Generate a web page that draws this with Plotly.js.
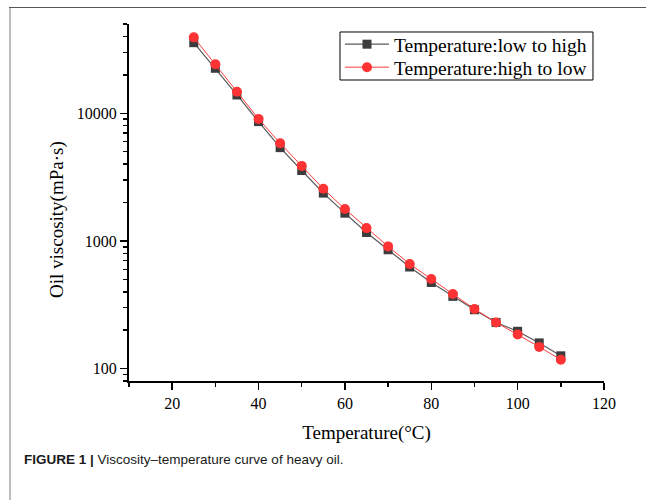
<!DOCTYPE html>
<html>
<head>
<meta charset="utf-8">
<script src="https://cdn.plot.ly/plotly-3.0.1.min.js"></script>
<style>
  html, body { margin: 0; padding: 0; background: #fff; }
  #wrap { position: relative; width: 646px; height: 500px; }
  #chart { position: absolute; left: 0; top: 0; width: 646px; height: 500px; }
  #frameTop { position: absolute; left: 9px; top: 7px; width: 637px; height: 0; border-top: 1.5px solid #555; pointer-events: none; }
  #frameLeft { position: absolute; left: 9px; top: 8px; width: 0; height: 492px; border-left: 2px solid #bdbdbd; pointer-events: none; }
</style>
</head>
<body>
<div id="wrap">
  <div id="chart"></div>
  <div id="frameTop"></div>
  <div id="frameLeft"></div>
</div>
<script>
// Temperatures (°C)
const temperature = [25, 30, 35, 40, 45, 50, 55, 60, 65, 70, 75, 80, 85, 90, 95, 100, 105, 110];
// Oil viscosity (mPa·s), temperature rising
const viscLowToHigh = [35700, 22500, 13900, 8600, 5380, 3560, 2370, 1650, 1165, 853, 625, 473, 368, 289, 230, 196, 159, 126];
// Oil viscosity (mPa·s), temperature falling
const viscHighToLow = [39300, 24200, 14750, 9030, 5820, 3870, 2560, 1780, 1260, 906, 659, 503, 384, 293, 230, 185, 148, 117.5];

const seriesNames = ["Temperature:low to high", "Temperature:high to low"];
const xTickVals = [20, 40, 60, 80, 100, 120];
const yTickVals = [100, 1000, 10000];
const yTickText = ["100", "1000", "10000"];
const yMinorVals = [80, 90, 200, 300, 400, 500, 600, 700, 800, 900, 2000, 3000, 4000, 5000, 6000, 7000, 8000, 9000, 20000, 30000, 40000, 50000];

const serif = "Liberation Serif";

const traces = [
  {
    x: temperature, y: viscLowToHigh, name: seriesNames[0],
    type: "scatter", mode: "lines+markers", legend: "legend",
    line: { color: "#5a5a5a", width: 1.2 },
    marker: { symbol: "square", size: 9, color: "#3c3c3c" }
  },
  {
    x: temperature, y: viscHighToLow, name: seriesNames[1],
    type: "scatter", mode: "lines+markers", legend: "legend2",
    line: { color: "#ff3b3b", width: 1 },
    marker: { symbol: "circle", size: 10, color: "#ff3333" }
  }
];

const legendStyle = {
  xanchor: "left", yanchor: "top",
  bgcolor: "rgba(0,0,0,0)", borderwidth: 0,
  font: { family: serif, size: 19.5, color: "#000" },
  itemwidth: 44
};

const layout = {
  width: 646, height: 500,
  margin: { l: 129, r: 42, t: 24, b: 119 },
  paper_bgcolor: "#fff", plot_bgcolor: "#fff",
  font: { family: serif, color: "#000", size: 16 },
  showlegend: true,
  legend: Object.assign({ x: 0.4442, y: 0.9972 }, legendStyle),
  legend2: Object.assign({ x: 0.4442, y: 0.9328 }, legendStyle),
  shapes: [
    {
      type: "rect", xref: "paper", yref: "paper", layer: "above",
      x0: 0.4442, x1: 0.9768, y0: 0.8431, y1: 0.9776,
      line: { color: "#000", width: 1 }, fillcolor: "rgba(255,255,255,1)"
    }
  ],
  xaxis: {
    range: [10, 120],
    tickmode: "array", tickvals: xTickVals,
    ticks: "outside", ticklen: 7, tickwidth: 1.5, tickcolor: "#000",
    minor: { tickmode: "linear", tick0: 10, dtick: 10, ticks: "outside", ticklen: 4, tickwidth: 1.5, tickcolor: "#000", showgrid: false },
    showline: true, linecolor: "#000", linewidth: 2,
    showgrid: false, zeroline: false,
    tickfont: { family: serif, size: 16, color: "#000" },
    title: { text: "Temperature(°C)", font: { family: serif, size: 19 }, standoff: 14 }
  },
  yaxis: {
    type: "log",
    range: [Math.log10(80), Math.log10(50000)],
    tickmode: "array", tickvals: yTickVals, ticktext: yTickText,
    ticks: "outside", ticklen: 7, tickwidth: 1.5, tickcolor: "#000",
    minor: { tickmode: "array", tickvals: yMinorVals, ticks: "outside", ticklen: 4, tickwidth: 1.5, tickcolor: "#000", showgrid: false },
    showline: true, linecolor: "#000", linewidth: 2,
    showgrid: false, zeroline: false,
    tickfont: { family: serif, size: 16, color: "#000" }
  },
  annotations: [
    {
      xref: "paper", yref: "paper", x: -0.1516, y: 0.4538,
      xanchor: "center", yanchor: "middle", showarrow: false, textangle: -90,
      text: "Oil viscosity(mPa·s)",
      font: { family: serif, size: 19, color: "#000" }
    },
    {
      xref: "paper", yref: "paper", x: -0.225, y: -0.2185,
      xanchor: "left", yanchor: "middle", showarrow: false,
      text: "<b>FIGURE 1 |</b> Viscosity–temperature curve of heavy oil.",
      font: { family: "Liberation Sans, Arial, sans-serif", size: 13.5, color: "#1a1a1a" }
    }
  ]
};

Plotly.newPlot("chart", traces, layout, { displayModeBar: false, staticPlot: true });
</script>
</body>
</html>
